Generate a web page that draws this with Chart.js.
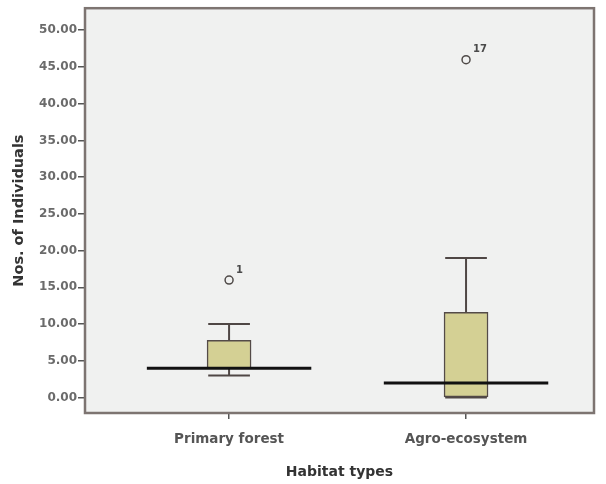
<!DOCTYPE html>
<html>
<head>
<meta charset="utf-8">
<script src="https://cdn.jsdelivr.net/npm/chart.js@4"></script>
<style>
  body { margin: 0; background: #ffffff; }
</style>
</head>
<body>
<canvas id="myChart" width="606" height="484"></canvas>
<script>
// box plot values
var categories = ['Primary forest', 'Agro-ecosystem'];
var whiskerLow = [3, 0];
var quartileLow = [4, 0];
var medians = [4, 2];
var quartileHigh = [7.8, 11.6];
var whiskerHigh = [10, 19];
var outlierCats = [0, 1];
var outlierValues = [16, 46];
var outlierLabels = ['1', '17'];
var yTicks = [0, 5, 10, 15, 20, 25, 30, 35, 40, 45, 50];

var capHalf = 0.088;     // half width of whisker caps, in category units
var medianHalf = 0.347;  // half length of the median line

// build line segments (null breaks between them)
var whiskerPts = [];
var medianPts = [];
for (var i = 0; i < categories.length; i++) {
    whiskerPts.push({x: i, y: quartileHigh[i]}, {x: i, y: whiskerHigh[i]}, {x: i, y: null});
    whiskerPts.push({x: i, y: quartileLow[i]}, {x: i, y: whiskerLow[i]}, {x: i, y: null});
    whiskerPts.push({x: i - capHalf, y: whiskerHigh[i]}, {x: i + capHalf, y: whiskerHigh[i]}, {x: i, y: null});
    whiskerPts.push({x: i - capHalf, y: whiskerLow[i]}, {x: i + capHalf, y: whiskerLow[i]}, {x: i, y: null});
    medianPts.push({x: i - medianHalf, y: medians[i]}, {x: i + medianHalf, y: medians[i]}, {x: i, y: null});
}

var plotBg = '#f0f1f0';

var framePlugin = {
    id: 'frame',
    beforeDraw: function (chart) {
        var ctx = chart.ctx, a = chart.chartArea;
        ctx.save();
        ctx.fillStyle = '#ffffff';
        ctx.fillRect(0, 0, chart.width, chart.height);
        ctx.fillStyle = plotBg;
        ctx.fillRect(a.left, a.top, a.right - a.left, a.bottom - a.top);
        ctx.restore();
    },
    afterDatasetsDraw: function (chart) {
        var ctx = chart.ctx, a = chart.chartArea;
        ctx.save();
        ctx.strokeStyle = '#7d7471';
        ctx.lineWidth = 2.5;
        ctx.strokeRect(a.left, a.top, a.right - a.left, a.bottom - a.top);
        // outlier case numbers
        ctx.fillStyle = '#4a4a4a';
        ctx.font = 'bold 10px "DejaVu Sans"';
        ctx.textAlign = 'left';
        ctx.textBaseline = 'middle';
        for (var k = 0; k < outlierValues.length; k++) {
            var px = chart.scales.x.getPixelForValue(outlierCats[k]);
            var py = chart.scales.y.getPixelForValue(outlierValues[k]);
            ctx.fillText(outlierLabels[k], px + 7, py - 10);
        }
        ctx.restore();
    }
};

var ctx = document.getElementById('myChart').getContext('2d');
var myChart = new Chart(ctx, {
    data: {
        datasets: [
            {
                type: 'line',
                label: 'Median',
                data: medianPts,
                borderColor: '#111111',
                borderWidth: 3,
                pointRadius: 0,
                spanGaps: false,
                order: 0
            },
            {
                type: 'scatter',
                label: 'Outliers',
                data: outlierCats.map(function (c, k) { return {x: c, y: outlierValues[k]}; }),
                pointRadius: 4,
                pointBorderWidth: 1.5,
                pointBorderColor: '#4f4a48',
                pointBackgroundColor: plotBg,
                order: 0
            },
            {
                type: 'line',
                label: 'Whiskers',
                data: whiskerPts,
                borderColor: '#4f4745',
                borderWidth: 2,
                pointRadius: 0,
                spanGaps: false,
                order: 1
            },
            {
                type: 'bar',
                label: 'Box',
                data: categories.map(function (c, i) { return {x: i, y: [quartileLow[i], quartileHigh[i]]}; }),
                backgroundColor: 'rgb(212,208,148)',
                borderColor: '#544b48',
                borderWidth: 1.5,
                borderSkipped: false,
                barThickness: 44,
                order: 2
            }
        ]
    },
    options: {
        responsive: false,
        animation: false,
        layout: { padding: { top: 7, right: 12, left: 0, bottom: 0 } },
        plugins: {
            legend: { display: false },
            tooltip: { enabled: false }
        },
        scales: {
            x: {
                type: 'linear',
                offset: false,
                min: -0.608,
                max: 1.54,
                afterBuildTicks: function (scale) {
                    scale.ticks = categories.map(function (c, i) { return {value: i}; });
                },
                afterFit: function (scale) { scale.height = 71; },
                ticks: {
                    callback: function (v) { return categories[v]; },
                    color: '#555555',
                    font: { family: 'DejaVu Sans', size: 13.5, weight: 'bold' },
                    padding: 12,
                    maxRotation: 0
                },
                grid: { offset: false, drawOnChartArea: false, tickLength: 6, color: '#555555', lineWidth: 1.5 },
                border: { display: false },
                title: {
                    display: true,
                    text: 'Habitat types',
                    color: '#333333',
                    font: { family: 'DejaVu Sans', size: 14, weight: 'bold' },
                    padding: { top: 0, bottom: 3 }
                }
            },
            y: {
                min: -2.1,
                max: 53,
                afterBuildTicks: function (scale) {
                    scale.ticks = yTicks.map(function (v) { return {value: v}; });
                },
                afterFit: function (scale) { scale.width = 85; },
                ticks: {
                    callback: function (v) { return Number(v).toFixed(2); },
                    color: '#6b6b6b',
                    font: { family: 'DejaVu Sans', size: 12, weight: 'bold' },
                    padding: 1
                },
                grid: { drawOnChartArea: false, tickLength: 7, color: '#555555', lineWidth: 1.5 },
                border: { display: false },
                title: {
                    display: true,
                    text: 'Nos. of Individuals',
                    color: '#333333',
                    font: { family: 'DejaVu Sans', size: 14.5, weight: 'bold' },
                    padding: { top: 11, bottom: 0 }
                }
            }
        }
    },
    plugins: [framePlugin]
});
</script>
</body>
</html>
